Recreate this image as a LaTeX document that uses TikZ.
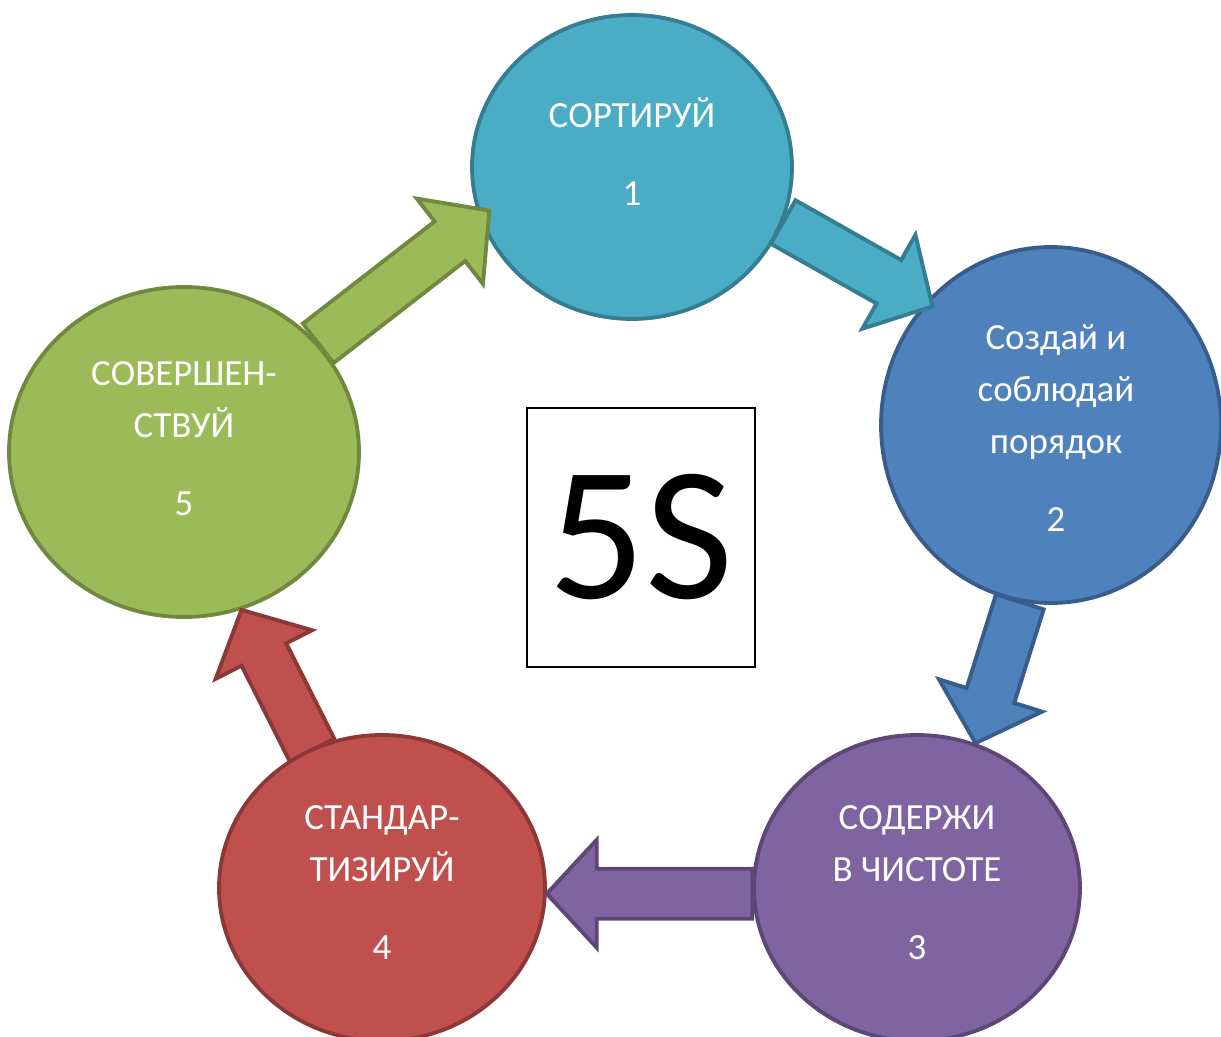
\documentclass[tikz,border=0pt]{standalone}
\usepackage{fontspec}
\setmainfont{Carlito}
\usetikzlibrary{calc}
\usetikzlibrary{shapes}

\definecolor{sortfill}{HTML}{4BACC6}
\definecolor{sortline}{HTML}{357D91}
\definecolor{orderfill}{HTML}{4F81BD}
\definecolor{orderline}{HTML}{385D8A}
\definecolor{cleanfill}{HTML}{8064A2}
\definecolor{cleanline}{HTML}{5C4776}
\definecolor{stdfill}{HTML}{C0504D}
\definecolor{stdline}{HTML}{8C3836}
\definecolor{impfill}{HTML}{9BBB59}
\definecolor{impline}{HTML}{71893F}

% block arrow: #1 style, #2 tail, #3 tip
\newcommand{\blockarrow}[3]{%
  \coordinate (bt) at (#2);
  \coordinate (bp) at (#3);
  \coordinate (bh) at ($(bp)!1cm!(bt)$);
  \draw[#1] ($(bt)!0.5cm!90:(bp)$) -- ($(bh)!0.5cm!90:(bp)$)
    -- ($(bh)!1.08cm!90:(bp)$) -- (bp) -- ($(bh)!1.08cm!-90:(bp)$)
    -- ($(bh)!0.5cm!-90:(bp)$) -- ($(bt)!0.5cm!-90:(bp)$) -- cycle;
}

\begin{document}
\begin{tikzpicture}[x=0.02cm,y=-0.02cm,
    stage/.style={ellipse,draw,line width=2.2pt,inner sep=0pt},
    lbl/.style={text=white,align=center,font=\fontsize{21}{29.5}\selectfont},
    arr/.style={line width=2.2pt,line join=miter}]
    \useasboundingbox (0,0) rectangle (1221,1037);
    \node[stage,fill=sortfill,draw=sortline,minimum width=6.4cm,minimum height=6.08cm] (sort) at (632,167) {};
    \node[stage,fill=orderfill,draw=orderline,minimum width=6.8cm,minimum height=7.12cm] (order) at (1051,425) {};
    \node[stage,fill=cleanfill,draw=cleanline,minimum width=6.52cm,minimum height=6.12cm] (clean) at (917,888) {};
    \node[stage,fill=impfill,draw=impline,minimum width=7cm,minimum height=6.6cm] (improve) at (184,452) {};
    %
    \blockarrow{arr,fill=stdfill,draw=stdline}{$(382,888)!0.9!(382,888)+(-70,-138)$}{improve.-70}
    \node[stage,fill=stdfill,draw=stdline,minimum width=6.52cm,minimum height=6.12cm] (standard) at (382,888) {};
    %
    \blockarrow{arr,fill=sortfill,draw=sortline}{sort.-20}{$(order.135)!0.16cm!(order)$}
    \blockarrow{arr,fill=orderfill,draw=orderline}{order.-100}{clean.68}
    \blockarrow{arr,fill=cleanfill,draw=cleanline}{clean.182}{standard.-2}
    \blockarrow{arr,fill=impfill,draw=impline}{improve.39}{$(sort.197)!0.24cm!(sort)$}
    %
    \node[lbl] (sortT) at (632,151.5) {СОРТИРУЙ\\[14.7pt]1};
    \node[lbl] (orderT) at (1056,428) {Создай и\\соблюдай\\порядок\\[14.7pt]2};
    \node[lbl] (cleanT) at (917,882.5) {СОДЕРЖИ\\В ЧИСТОТЕ\\[14.7pt]3};
    \node[lbl] (standardT) at (382,882.5) {СТАНДАР-\\ТИЗИРУЙ\\[14.7pt]4};
    \node[lbl] (improveT) at (184,438.5) {СОВЕРШЕН-\\СТВУЙ\\[14.7pt]5};
    %
    \node[draw,line width=0.8pt,inner sep=0pt,minimum width=4.56cm,minimum height=5.18cm,
      font=\fontsize{109}{112}\selectfont] (fives) at (641,537.5) {5S};
  \end{tikzpicture}
\end{document}
